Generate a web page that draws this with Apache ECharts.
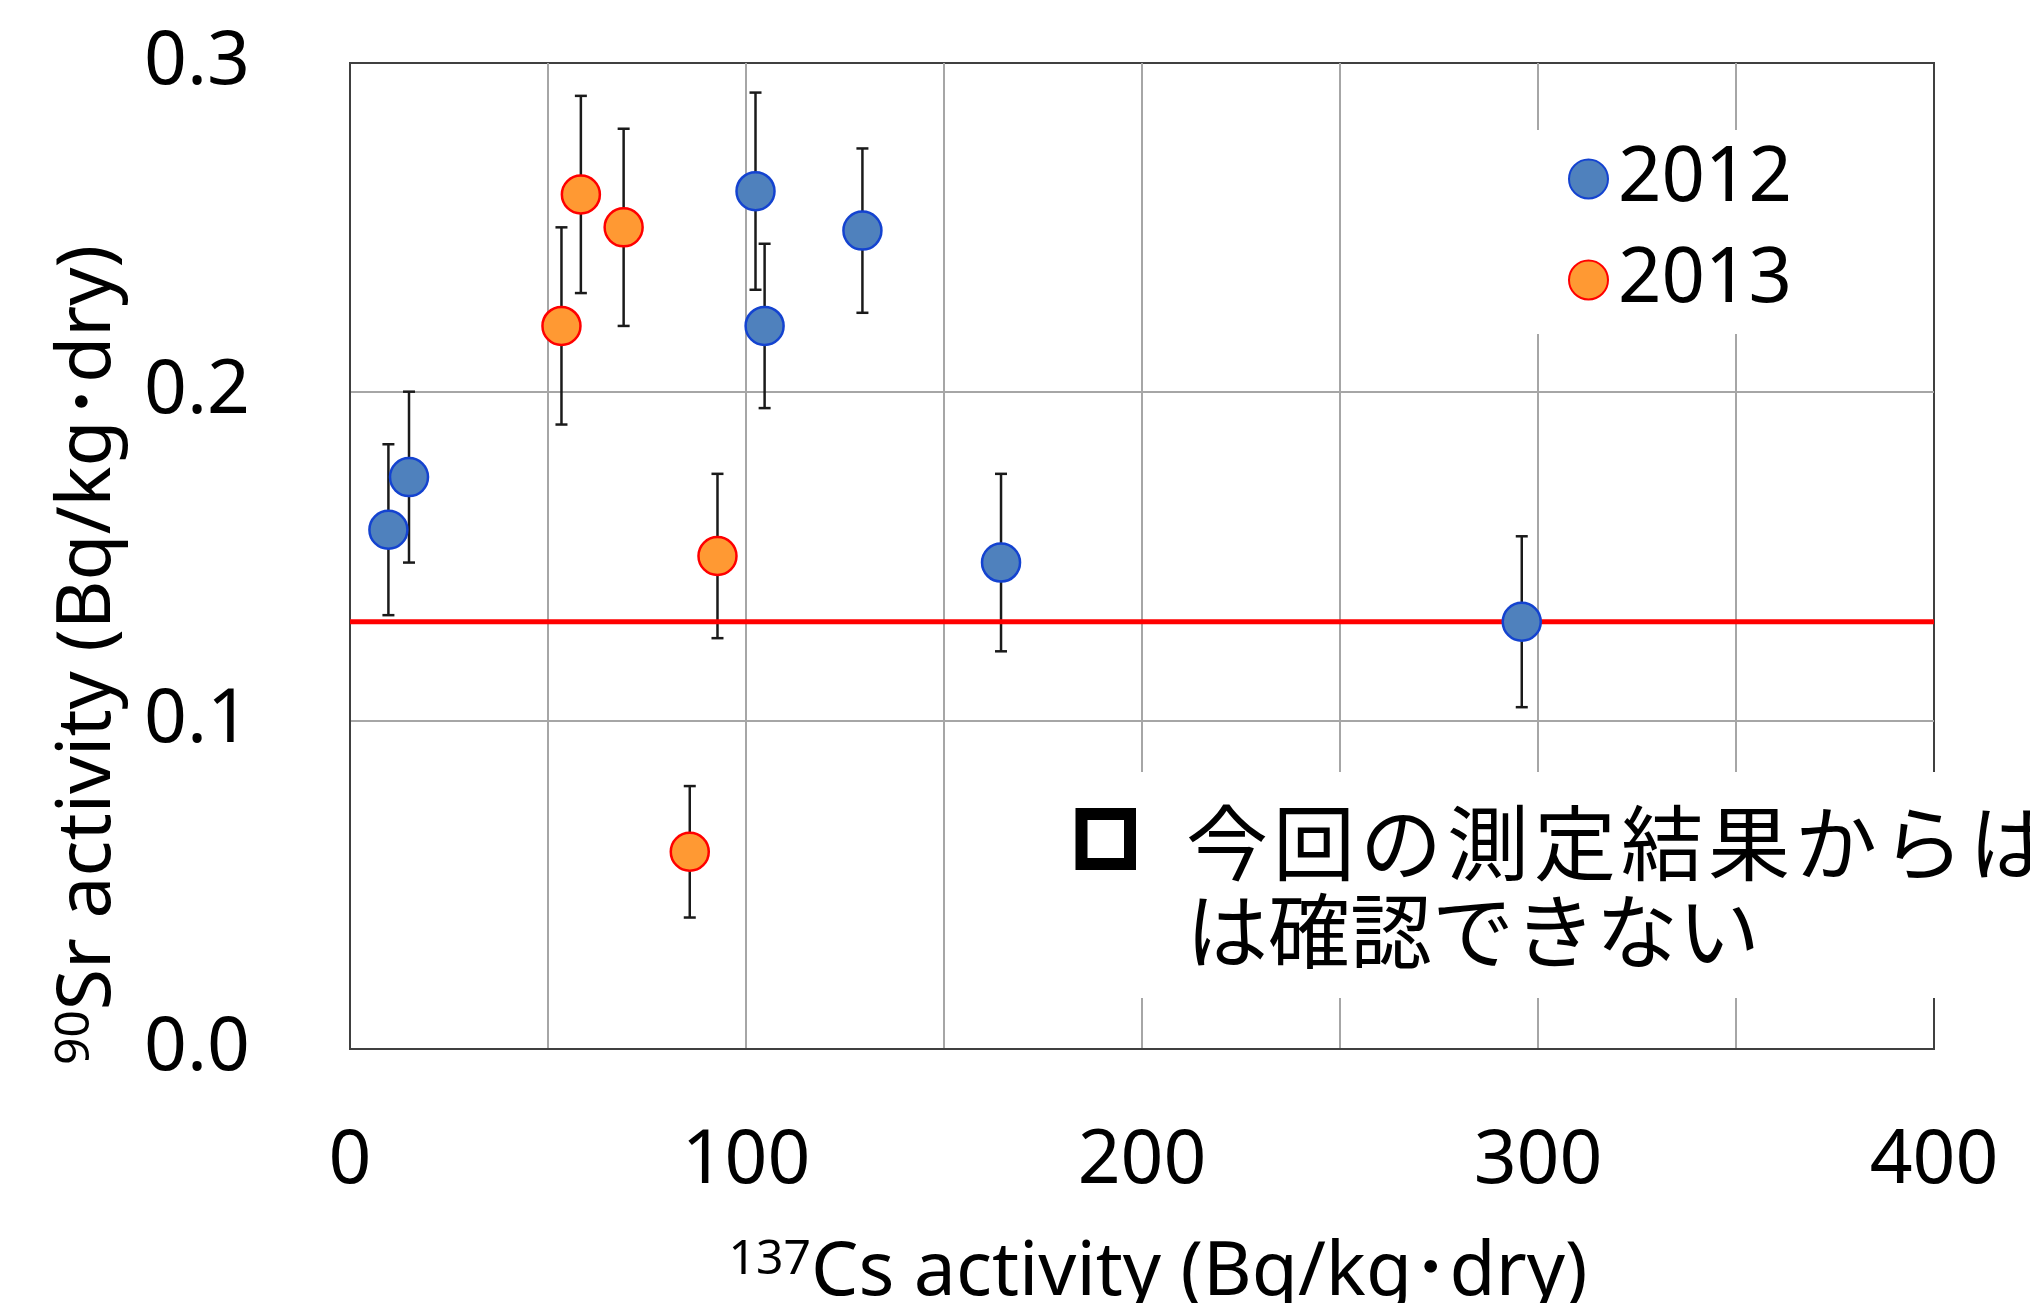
<!DOCTYPE html>
<html>
<head>
<meta charset="utf-8">
<script src="https://cdn.jsdelivr.net/npm/echarts@6/dist/echarts.min.js"></script>
<style>
  html, body { margin: 0; padding: 0; background: #fff; }
  #chart { width: 2030px; height: 1303px; }
</style>
</head>
<body>
<div id="chart"></div>
<script>
// 137Cs (x) vs 90Sr (y)
const cs2012 = [9.7, 14.9, 102.4, 104.7, 129.4, 164.4, 295.9]
const sr2012 = [0.158, 0.174, 0.261, 0.22, 0.249, 0.148, 0.13]
const err2012 = [0.026, 0.026, 0.03, 0.025, 0.025, 0.027, 0.026]

const cs2013 = [53.4, 58.3, 69.1, 92.8, 85.8]
const sr2013 = [0.22, 0.26, 0.25, 0.15, 0.06]
const err2013 = [0.03, 0.03, 0.03, 0.025, 0.02]

const DETECTION_LIMIT = 0.13
const X_RANGE = [0, 400]
const Y_RANGE = [0, 0.3]
const SERIES_NAMES = ['2012', '2013']
const NOTE_LINES = ['今回の測定結果からは', 'は確認できない']

const FONT = "'Noto Sans', 'Noto Sans CJK JP', sans-serif"
const FONT_JP = "'Noto Sans CJK JP', 'Noto Sans', sans-serif"
const COLORS = {
  border: '#404040',
  grid: '#A6A6A6',
  bar: '#1a1a1a',
  limit: '#FF0000',
  blue: '#4F81BD',
  blueEdge: '#1443D0',
  orange: '#FF9933',
  orangeEdge: '#FF0000',
}

const points = (xs, ys) => xs.map((x, i) => [x, ys[i]])
const bars = (xs, ys, es) => xs.map((x, i) => [x, ys[i] - es[i], ys[i] + es[i]])
// first note line is spread a little wider than the second
const spaced = s => Array.from(s).map(c => `{c|${c}}`).join('')

function renderErrorBar(params, api) {
  const x = api.value(0)
  const top = api.coord([x, api.value(2)])
  const bot = api.coord([x, api.value(1)])
  const hw = 6
  const style = { stroke: COLORS.bar, lineWidth: 2.5 }
  return {
    type: 'group',
    children: [
      { type: 'line', shape: { x1: top[0], y1: top[1], x2: bot[0], y2: bot[1] }, style },
      { type: 'line', shape: { x1: top[0] - hw, y1: top[1], x2: top[0] + hw, y2: top[1] }, style },
      { type: 'line', shape: { x1: bot[0] - hw, y1: bot[1], x2: bot[0] + hw, y2: bot[1] }, style },
    ],
  }
}

const chart = echarts.init(document.getElementById('chart'))

chart.setOption({
  animation: false,
  backgroundColor: '#fff',
  grid: {
    left: 350, right: 96, top: 63, bottom: 254,
    show: true, borderColor: COLORS.border, borderWidth: 2,
  },
  legend: {
    data: SERIES_NAMES,
    orient: 'vertical',
    left: 1530, top: 130,
    padding: [9, 20, 14, 38],
    backgroundColor: '#fff',
    icon: 'circle',
    itemWidth: 39, itemHeight: 39,
    itemGap: 21,
    textStyle: { fontFamily: FONT, fontSize: 76, color: '#000', lineHeight: 80, padding: [0, 0, 0, 5] },
  },
  xAxis: {
    type: 'value',
    min: X_RANGE[0], max: X_RANGE[1], interval: 100,
    axisLine: { show: true, lineStyle: { color: COLORS.border, width: 2 } },
    axisTick: { show: false },
    axisLabel: { fontFamily: FONT, fontSize: 75, color: '#000', margin: 75, lineHeight: 75 },
    splitLine: { show: true, showMinLine: false, showMaxLine: false, lineStyle: { color: COLORS.grid, width: 2 } },
    minorTick: { show: false, splitNumber: 2 },
    minorSplitLine: { show: true, lineStyle: { color: COLORS.grid, width: 2 } },
  },
  yAxis: {
    type: 'value',
    min: Y_RANGE[0], max: Y_RANGE[1], interval: 0.1,
    axisLine: { show: true, lineStyle: { color: COLORS.border, width: 2 } },
    axisTick: { show: false },
    axisLabel: {
      fontFamily: FONT, fontSize: 75, color: '#000', margin: 100,
      formatter: v => v.toFixed(1),
    },
    splitLine: { show: true, showMinLine: false, showMaxLine: false, lineStyle: { color: COLORS.grid, width: 2 } },
  },
  series: [
    {
      name: 'err2012',
      type: 'custom',
      renderItem: renderErrorBar,
      encode: { x: 0, y: [1, 2] },
      data: bars(cs2012, sr2012, err2012),
      z: 2,
      silent: true,
    },
    {
      name: 'err2013',
      type: 'custom',
      renderItem: renderErrorBar,
      encode: { x: 0, y: [1, 2] },
      data: bars(cs2013, sr2013, err2013),
      z: 2,
      silent: true,
    },
    {
      name: 'limit',
      type: 'line',
      data: [[X_RANGE[0], DETECTION_LIMIT], [X_RANGE[1], DETECTION_LIMIT]],
      symbol: 'none',
      lineStyle: { color: COLORS.limit, width: 5 },
      z: 3,
      silent: true,
    },
    {
      name: SERIES_NAMES[0],
      type: 'scatter',
      data: points(cs2012, sr2012),
      symbolSize: 38,
      itemStyle: { color: COLORS.blue, borderColor: COLORS.blueEdge, borderWidth: 2.5, opacity: 1 },
      z: 4,
    },
    {
      name: SERIES_NAMES[1],
      type: 'scatter',
      data: points(cs2013, sr2013),
      symbolSize: 38,
      itemStyle: { color: COLORS.orange, borderColor: COLORS.orangeEdge, borderWidth: 2.5, opacity: 1 },
      z: 4,
    },
  ],
  graphic: {
    elements: [
      // y axis title
      {
        type: 'text',
        x: 89, y: 655,
        rotation: Math.PI / 2,
        z: 20,
        style: {
          text: '{sup|90}Sr activity (Bq/kg･dry)',
          fontFamily: FONT, fontSize: 75, fill: '#000',
          align: 'center', verticalAlign: 'middle',
          rich: { sup: { fontFamily: FONT, fontSize: 48, fill: '#000', verticalAlign: 'top', lineHeight: 48 } },
        },
      },
      // x axis title
      {
        type: 'text',
        x: 1158, y: 1274,
        z: 20,
        style: {
          text: '{sup|137}Cs activity (Bq/kg･dry)',
          fontFamily: FONT, fontSize: 75, fill: '#000',
          align: 'center', verticalAlign: 'middle',
          rich: { sup: { fontFamily: FONT, fontSize: 48, fill: '#000', verticalAlign: 'top', lineHeight: 48 } },
        },
      },
      // note box
      {
        type: 'rect',
        z: 10,
        shape: { x: 1050, y: 772, width: 990, height: 226 },
        style: { fill: '#fff' },
      },
      {
        type: 'rect',
        z: 11,
        shape: { x: 1081.5, y: 814, width: 48.5, height: 50 },
        style: { fill: '#fff', stroke: '#000', lineWidth: 12 },
      },
      {
        type: 'text',
        x: 1186, y: 843,
        z: 11,
        style: {
          text: spaced(NOTE_LINES[0]),
          fontFamily: FONT_JP, fontSize: 82, fill: '#000',
          align: 'left', verticalAlign: 'middle',
          rich: { c: { fontFamily: FONT_JP, fontSize: 82, fill: '#000', padding: [0, 5, 0, 0] } },
        },
      },
      {
        type: 'text',
        x: 1186, y: 931,
        z: 11,
        style: {
          text: NOTE_LINES[1],
          fontFamily: FONT_JP, fontSize: 82, fill: '#000',
          align: 'left', verticalAlign: 'middle',
        },
      },
    ],
  },
})
</script>
</body>
</html>
